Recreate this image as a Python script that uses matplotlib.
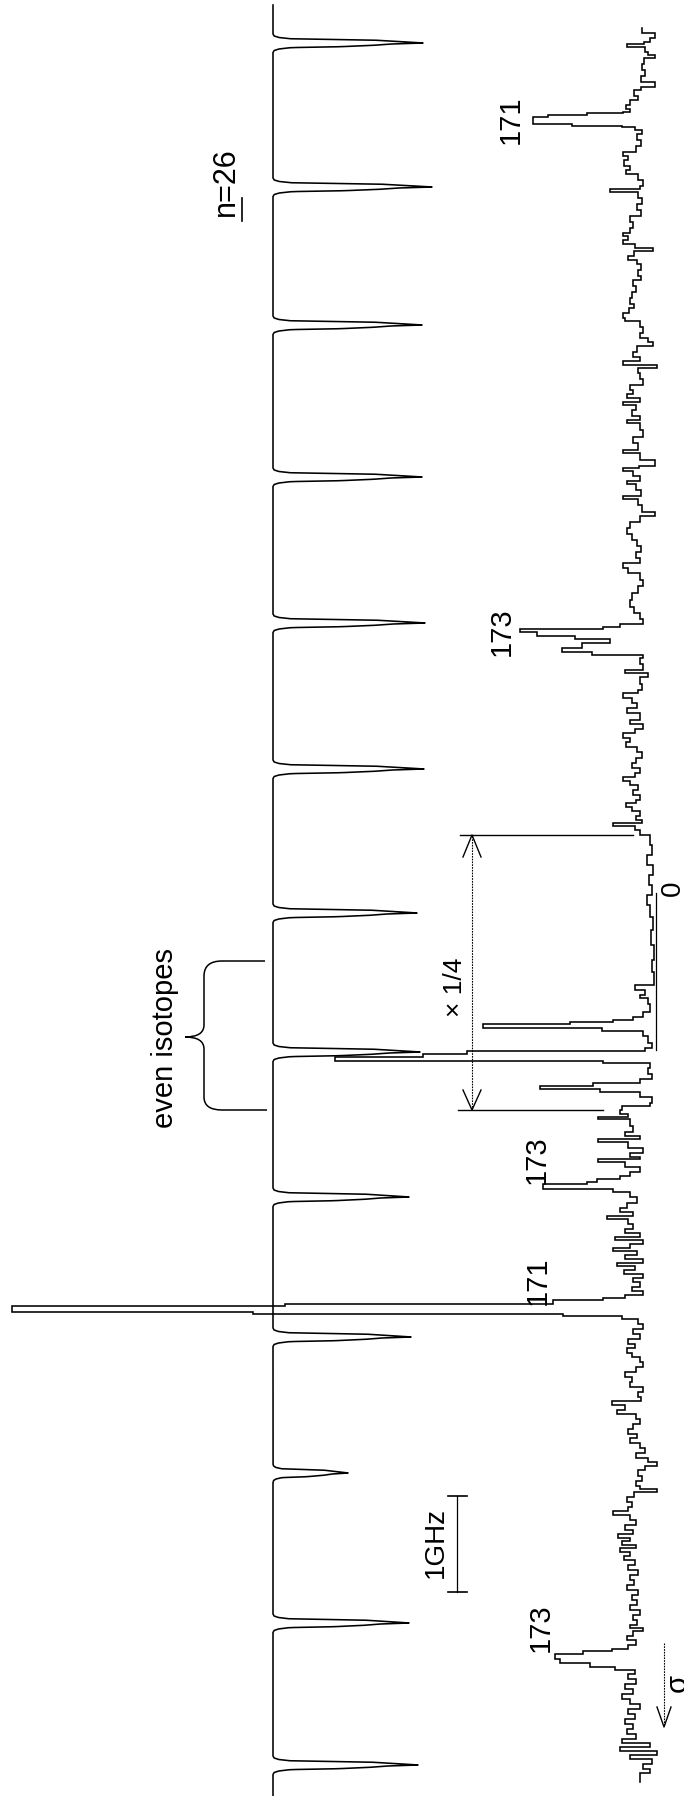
import numpy as np
import matplotlib
matplotlib.use("Agg")
import matplotlib.pyplot as plt
from matplotlib.path import Path
from matplotlib.patches import PathPatch

# ---------------- data (scan axis runs top -> bottom, signal runs horizontally) ----------
# Fabry-Perot marker fringes: scan position of each fringe and its height
fringe_scan = [43, 187, 325, 477, 623, 769, 913, 1052, 1197, 1337, 1473, 1623, 1765]
fringe_height = [150, 159, 149, 149, 152, 151, 144, 147, 136, 138, 75, 136, 145]

# Recorded spectrum (staircase): scan position where each step starts and its level
spec_scan = (
    [28, 33, 38, 42, 44, 47, 52, 55, 58, 64]
    + [70, 76, 82, 87, 90, 96, 100, 105, 109, 112]
    + [113, 115, 117, 124, 126, 127, 130, 134, 140, 146]
    + [152, 156, 160, 166, 170, 174, 180, 186, 189, 192]
    + [198, 204, 210, 216, 222, 228, 233, 236, 240, 244]
    + [248, 251, 256, 260, 264, 270, 276, 280, 286, 292]
    + [298, 304, 308, 313, 318, 321, 327, 333, 338, 342]
    + [346, 352, 357, 361, 365, 368, 373, 379, 385, 390]
    + [394, 398, 402, 405, 410, 416, 420, 423, 430, 437]
    + [443, 450, 453, 460, 466, 468, 471, 476, 481, 484]
    + [490, 496, 499, 505, 512, 516, 522, 528, 534, 540]
    + [546, 552, 558, 563, 568, 573, 580, 586, 593, 600]
    + [607, 613, 619, 624, 627, 629, 632, 636, 639, 643]
    + [648, 652, 655, 658, 664, 670, 673, 677, 684, 690]
    + [693, 698, 703, 708, 713, 720, 724, 729, 733, 738]
    + [742, 747, 752, 758, 763, 768, 773, 777, 781, 785]
    + [790, 795, 800, 803, 807, 811, 816, 820, 823, 826]
    + [830, 835, 845, 855, 865, 875, 885, 895, 905, 917]
    + [930, 945, 960, 972, 985, 990, 995, 998, 1004, 1012]
    + [1017, 1020, 1022, 1024, 1028, 1031, 1036, 1043, 1048, 1051]
    + [1054, 1057, 1061, 1063, 1068, 1074, 1079, 1083, 1086, 1089]
    + [1092, 1097, 1103, 1106, 1110, 1114, 1117, 1119, 1126, 1132]
    + [1136, 1139, 1142, 1148, 1153, 1157, 1159, 1162, 1167, 1172]
    + [1176, 1179, 1182, 1184, 1189, 1192, 1197, 1203, 1208, 1212]
    + [1216, 1219, 1224, 1229, 1233, 1237, 1240, 1244, 1248, 1251]
    + [1255, 1259, 1263, 1266, 1270, 1274, 1278, 1282, 1287, 1291]
    + [1295, 1298, 1300, 1304, 1306, 1312, 1314, 1316, 1319, 1324]
    + [1329, 1334, 1339, 1344, 1348, 1353, 1357, 1362, 1367, 1372]
    + [1377, 1382, 1387, 1392, 1397, 1401, 1405, 1410, 1414, 1419]
    + [1424, 1429, 1434, 1438, 1443, 1448, 1453, 1458, 1462, 1466]
    + [1470, 1476, 1481, 1486, 1489, 1492, 1497, 1502, 1507, 1511]
    + [1515, 1520, 1525, 1530, 1534, 1538, 1541, 1545, 1548, 1552]
    + [1556, 1560, 1565, 1570, 1575, 1580, 1585, 1590, 1595, 1600]
    + [1605, 1610, 1615, 1620, 1625, 1628, 1631, 1636, 1640, 1645]
    + [1649, 1651, 1654, 1659, 1663, 1667, 1670, 1674, 1679, 1684]
    + [1689, 1694, 1699, 1704, 1709, 1714, 1719, 1724, 1729, 1734]
    + [1739, 1743, 1747, 1751, 1755, 1759, 1764, 1769, 1773]
)
spec_level = (
    [642, 655, 650, 644, 627, 645, 648, 655, 644, 642]
    + [645, 641, 655, 641, 634, 638, 630, 626, 630, 623]
    + [587, 548, 533, 572, 622, 635, 642, 637, 641, 636]
    + [623, 628, 624, 630, 626, 638, 643, 640, 610, 638]
    + [642, 637, 641, 630, 633, 630, 623, 628, 623, 635]
    + [653, 634, 628, 637, 641, 638, 641, 633, 636, 632]
    + [630, 634, 629, 623, 625, 640, 643, 640, 648, 653]
    + [637, 633, 640, 623, 657, 638, 640, 643, 630, 633]
    + [627, 640, 623, 636, 632, 640, 627, 640, 643, 633]
    + [638, 623, 640, 655, 639, 623, 633, 640, 627, 636]
    + [641, 623, 638, 642, 655, 640, 630, 627, 632, 637]
    + [641, 636, 640, 623, 628, 640, 643, 638, 632, 630]
    + [634, 640, 643, 620, 603, 520, 537, 575, 610, 582]
    + [562, 592, 643, 640, 643, 625, 648, 640, 642, 638]
    + [623, 632, 637, 627, 640, 630, 643, 635, 623, 630]
    + [626, 637, 642, 636, 632, 640, 635, 623, 630, 638]
    + [633, 640, 636, 626, 632, 640, 636, 642, 613, 635]
    + [640, 650, 652, 647, 653, 649, 652, 647, 650, 653]
    + [651, 654, 652, 654, 635, 645, 640, 648, 650, 643]
    + [633, 613, 570, 483, 602, 643, 648, 652, 645, 467]
    + [423, 335, 603, 650, 648, 652, 640, 593, 540, 600]
    + [640, 652, 650, 622, 620, 628, 598, 630, 633, 625]
    + [640, 598, 628, 643, 630, 640, 598, 625, 640, 630]
    + [620, 597, 587, 543, 613, 630, 637, 627, 620, 633]
    + [607, 628, 633, 625, 640, 615, 643, 630, 613, 637]
    + [625, 643, 617, 635, 624, 643, 633, 640, 632, 643]
    + [625, 603, 553, 285, 12, 253, 563, 622, 638, 643]
    + [633, 640, 628, 635, 627, 632, 640, 643, 636, 625]
    + [632, 630, 643, 638, 641, 612, 625, 617, 636, 640]
    + [633, 628, 637, 630, 640, 645, 636, 648, 657, 645]
    + [638, 642, 636, 640, 657, 634, 627, 632, 628, 613]
    + [630, 636, 625, 633, 618, 630, 622, 636, 620, 630]
    + [624, 635, 628, 638, 630, 634, 627, 638, 632, 637]
    + [630, 640, 633, 637, 630, 643, 633, 627, 636, 628]
    + [612, 583, 555, 560, 590, 615, 635, 628, 636, 625]
    + [633, 622, 630, 640, 628, 635, 625, 633, 627, 636]
    + [622, 650, 620, 657, 630, 652, 643, 650, 640]
)
spec_end = 1782

# Isotope labels
peak_labels = ["171", "173", "173", "171", "173"]
peak_label_scan = [120, 632, 1160, 1281, 1628]
peak_label_level = [511, 502, 537, 538, 541]

# ---------------- figure ----------------
W, H = 684, 1796
fig = plt.figure(figsize=(W / 100, H / 100), dpi=100)
ax = fig.add_axes([0, 0, 1, 1])
ax.set_xlim(0, W)
ax.set_ylim(H, 0)
ax.axis("off")

LW = 1.15
SANS = ["Liberation Sans", "DejaVu Sans"]
NARROW = ["Liberation Sans Narrow", "Liberation Sans", "DejaVu Sans"]

# Etalon trace: baseline with a sharp fringe at each marker position
etalon_base = 273
shape_dy = np.array([-9, -7, -5.5, -4.2, -3.4, -2.9, -1.4, 0, 0.9, 2.3, 3.7, 4.6, 6, 7.5, 9.5])
shape_f = np.array([0, .008, .04, .12, .45, .67, .85, 1, .8, .67, .45, .12, .04, .008, 0])
scan = np.arange(5, H + 1, 0.25)
etalon = np.full_like(scan, float(etalon_base))
for c, h in zip(fringe_scan, fringe_height):
    etalon += h * np.interp(scan - c, shape_dy, shape_f, left=0, right=0)
ax.plot(etalon, scan, color="black", lw=LW, solid_joinstyle="round")

# Spectrum staircase
edges = np.array(spec_scan + [spec_end], dtype=float)
lev = np.array(spec_level, dtype=float)
sx = np.repeat(lev, 2)
sy = np.column_stack([edges[:-1], edges[1:]]).ravel()
ax.plot(sx, sy, color="black", lw=LW, solid_joinstyle="miter")

# Isotope labels
for t, yy, xx in zip(peak_labels, peak_label_scan, peak_label_level):
    ax.text(xx, yy, t, rotation=90, ha="center", va="center", fontsize=21, family=NARROW)

# n = 26 label (underlined n)
ax.text(226, 182, "n=26", rotation=90, ha="center", va="center", fontsize=22, family=SANS)
ax.plot([242, 242], [198, 221], color="black", lw=1.2)

# even isotopes brace
verts = [(265, 961), (222, 961), (204, 961), (204, 976), (204, 1025),
         (204, 1037), (185, 1037), (204, 1037), (204, 1049),
         (204, 1097), (204, 1110), (222, 1110), (267, 1110)]
codes = [Path.MOVETO, Path.LINETO, Path.CURVE3, Path.CURVE3, Path.LINETO,
         Path.CURVE3, Path.CURVE3, Path.CURVE3, Path.CURVE3,
         Path.LINETO, Path.CURVE3, Path.CURVE3, Path.LINETO]
ax.add_patch(PathPatch(Path(verts, codes), fill=False, lw=1.1, color="black"))
ax.text(165, 1038, "even isotopes", rotation=90, ha="center", va="center", fontsize=21, family=SANS)

# x 1/4 section marker
ax.plot([460, 633], [835, 835], color="black", lw=1.0)
ax.plot([458, 603], [1110, 1110], color="black", lw=1.0)
ax.plot([472, 472], [836, 1109], color="black", lw=0.8, ls=(0, (1.5, 1.0)))
ax.plot([463, 472, 481], [857, 835, 857], color="black", lw=1.0)
ax.plot([463, 472, 481], [1090, 1110, 1090], color="black", lw=1.0)
ax.text(455, 987, "× 1/4", rotation=90, ha="center", va="center", fontsize=19, family=SANS)
ax.plot([656, 656], [893, 1050], color="black", lw=0.9)
ax.text(673, 888, "0", rotation=90, ha="center", va="center", fontsize=20, family=SANS)

# 1 GHz scale bar
ax.plot([457, 457], [1496, 1592], color="black", lw=0.9)
ax.plot([448, 467], [1496, 1496], color="black", lw=1.2)
ax.plot([448, 467], [1592, 1592], color="black", lw=1.2)
ax.text(436, 1543, "1GHz", rotation=90, ha="center", va="center", fontsize=20, family=SANS)

# sigma polarisation arrow
ax.plot([664, 664], [1643, 1726], color="black", lw=0.8, ls=(0, (1.5, 1.0)))
ax.plot([657, 664, 671], [1707, 1727, 1707], color="black", lw=1.0)
ax.text(678, 1683, "σ", rotation=90, ha="center", va="center", fontsize=21, family=SANS)

fig.savefig("out.png", dpi=100, facecolor="white")
